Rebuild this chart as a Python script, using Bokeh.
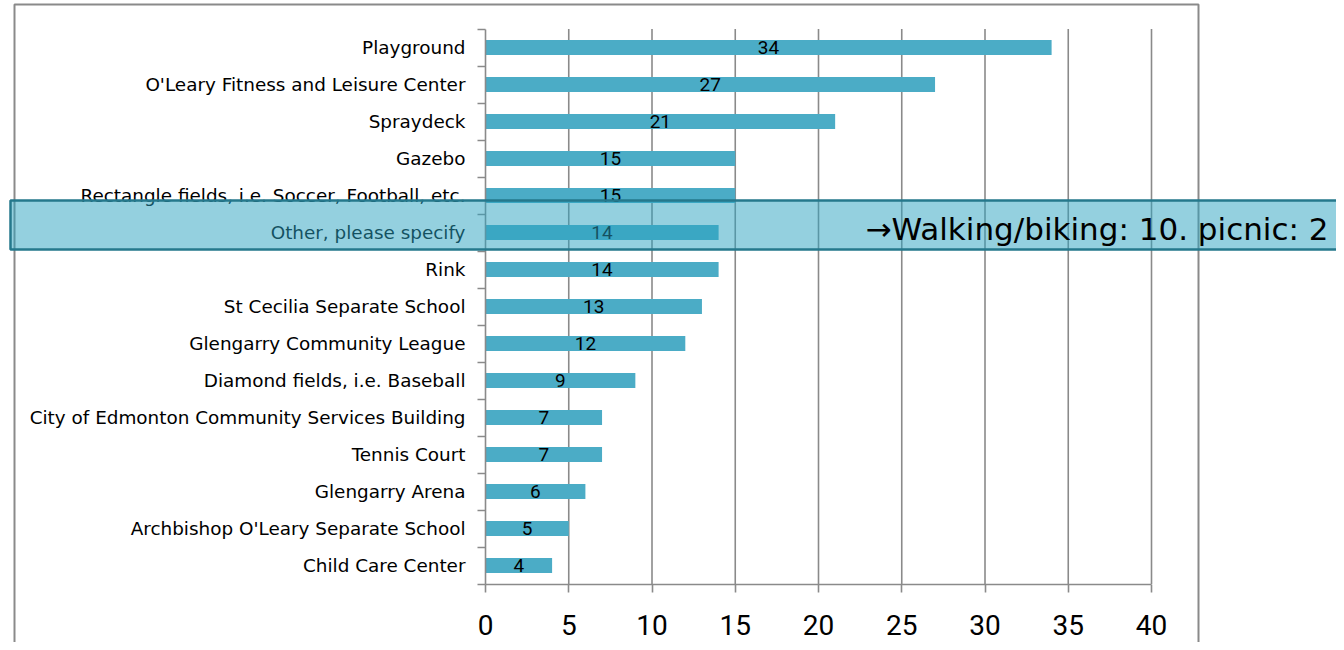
from bokeh.plotting import figure
from bokeh.models import (Range1d, FixedTicker, BoxAnnotation, Label,
                          ColumnDataSource, LinearAxis)
from bokeh.core.properties import value
from bokeh.embed import file_html
from bokeh.resources import INLINE

categories = [
    "Playground",
    "O'Leary Fitness and Leisure Center",
    "Spraydeck",
    "Gazebo",
    "Rectangle fields, i.e. Soccer, Football, etc.",
    "Other, please specify",
    "Rink",
    "St Cecilia Separate School",
    "Glengarry Community League",
    "Diamond fields, i.e. Baseball",
    "City of Edmonton Community Services Building",
    "Tennis Court",
    "Glengarry Arena",
    "Archbishop O'Leary Separate School",
    "Child Care Center",
]
counts = [34, 27, 21, 15, 15, 14, 14, 13, 12, 9, 7, 7, 6, 5, 4]
x_ticks = [0, 5, 10, 15, 20, 25, 30, 35, 40]
note_text = "\u2192Walking/biking: 10. picnic: 2"

n = len(categories)
ypos = [n - i for i in range(n)]           # first category on top
y_lo, y_hi = 0.5, n + 0.5                  # category band limits
x_lo, x_hi = x_ticks[0], x_ticks[-1]

src = ColumnDataSource(dict(
    y=ypos, v=counts, half=[c / 2 for c in counts], lab=[str(c) for c in counts]
))
grid_src = ColumnDataSource(dict(
    x=x_ticks[1:], y0=[y_lo] * (len(x_ticks) - 1), y1=[y_hi] * (len(x_ticks) - 1)
))

W, H = 1336, 642
# plot area of the chart: value 0 -> 485px, 40 -> 1151px; rows 37px apart
PX_PER_X = (1151 - 485) / (x_hi - x_lo)
PX_PER_Y = 37.0
x_range = Range1d(x_lo - 485 / PX_PER_X, x_lo + (W - 485) / PX_PER_X)
y_range = Range1d(y_lo - (H - 583.5) / PX_PER_Y, y_lo + 583.5 / PX_PER_Y)

p = figure(width=W, height=H, output_backend="svg", toolbar_location=None,
           x_range=x_range, y_range=y_range,
           x_axis_location=None, y_axis_location=None,
           min_border=0, min_border_left=0, min_border_right=0,
           min_border_top=0, min_border_bottom=0)
p.outline_line_color = None
p.background_fill_color = "white"
p.border_fill_color = "white"
p.grid.visible = False

GRAY = "#8a8a8a"

p.segment(x0="x", x1="x", y0="y0", y1="y1", source=grid_src,
          line_color=GRAY, line_width=1.6)
p.hbar(y="y", right="v", left=0, height=0.4, source=src,
       fill_color="#4BACC6", line_color=None)
p.text(x="half", y="y", text="lab", source=src, text_align="center",
       text_baseline="middle", text_font=value("Roboto"),
       text_font_size="19px", text_color="black")

# x axis
xaxis = LinearAxis(fixed_location=y_lo, bounds=(x_lo, x_hi),
                   ticker=FixedTicker(ticks=x_ticks))
xaxis.axis_line_color = GRAY
xaxis.axis_line_width = 1.6
xaxis.major_tick_line_color = GRAY
xaxis.major_tick_line_width = 1.6
xaxis.major_tick_out = 8
xaxis.major_tick_in = 0
xaxis.minor_tick_line_color = None
xaxis.major_label_text_font = "Roboto"
xaxis.major_label_text_font_size = "28px"
xaxis.major_label_text_color = "black"
xaxis.major_label_standoff = 23
p.add_layout(xaxis, "below")

# y axis
yaxis = LinearAxis(fixed_location=x_lo, bounds=(y_lo, y_hi),
                   ticker=FixedTicker(ticks=ypos,
                                      minor_ticks=[k + 0.5 for k in range(n + 1)]))
yaxis.major_label_overrides = {y: c for y, c in zip(ypos, categories)}
yaxis.axis_line_color = GRAY
yaxis.axis_line_width = 1.6
yaxis.major_tick_line_color = None
yaxis.major_tick_out = 0
yaxis.major_tick_in = 0
yaxis.minor_tick_line_color = GRAY
yaxis.minor_tick_line_width = 1.6
yaxis.minor_tick_out = 8
yaxis.minor_tick_in = 0
yaxis.major_label_text_font = "DejaVu Sans"
yaxis.major_label_text_font_size = "18.4px"
yaxis.major_label_text_color = "black"
yaxis.major_label_standoff = 12
p.add_layout(yaxis, "left")

# outer chart border
p.add_layout(BoxAnnotation(left=14, right=1198, top=4, bottom=700,
                           left_units="canvas", right_units="canvas",
                           top_units="canvas", bottom_units="canvas",
                           fill_color=None, line_color=GRAY, line_width=2,
                           line_alpha=1))
# highlight box
p.add_layout(BoxAnnotation(left=10, right=1360, top=200, bottom=249,
                           left_units="canvas", right_units="canvas",
                           top_units="canvas", bottom_units="canvas",
                           fill_color="#29A2C0", fill_alpha=0.5,
                           line_color="#25788C", line_width=2.5, line_alpha=1))
p.add_layout(Label(x=1328, y=228, x_units="canvas", y_units="canvas",
                   text=note_text, text_align="right", text_baseline="middle",
                   text_font="DejaVu Sans", text_font_size="31px",
                   text_color="black"))

open("out.html", "w").write(file_html(p, INLINE))
